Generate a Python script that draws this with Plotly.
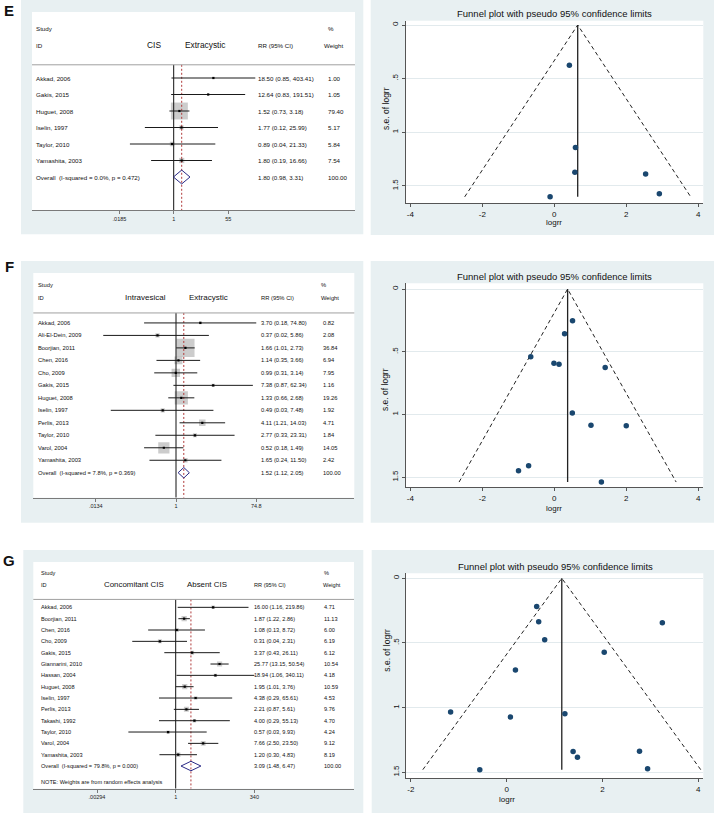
import numpy as np
import plotly.graph_objects as go

W, H = 714, 813
FONT = "Liberation Sans, Arial, sans-serif"
BG = "#E8F0F2"
NAVY = "#1A476F"

# ---------------- panel E : CIS vs extracystic ----------------
e_study = ["Akkad, 2006", "Gakis, 2015", "Huguet, 2008", "Iselin, 1997",
           "Taylor, 2010", "Yamashita, 2003"]
e_rr = [18.50, 12.64, 1.52, 1.77, 0.89, 1.80]
e_lo = [0.85, 0.83, 0.73, 0.12, 0.04, 0.19]
e_hi = [403.41, 191.51, 3.18, 25.99, 21.33, 16.66]
e_wt = [1.00, 1.05, 79.40, 5.17, 5.84, 7.54]
e_overall = [1.80, 0.98, 3.31]
e_het = "Overall\u00a0 (I-squared = 0.0%, p = 0.472)"
e_groups = ["CIS", "Extracystic"]
e_ticks = [0.0185, 1, 55]
e_ticktext = [".0185", "1", "55"]
e_center = 0.65

# ---------------- panel F : intravesical vs extracystic ----------------
f_study = ["Akkad, 2006", "Ali-El-Dein, 2009", "Boorjian, 2011", "Chen, 2016",
           "Cho, 2009", "Gakis, 2015", "Huguet, 2008", "Iselin, 1997",
           "Perlis, 2013", "Taylor, 2010", "Varol, 2004", "Yamashita, 2003"]
f_rr = [3.70, 0.37, 1.66, 1.14, 0.99, 7.38, 1.33, 0.49, 4.11, 2.77, 0.52, 1.65]
f_lo = [0.18, 0.02, 1.01, 0.35, 0.31, 0.87, 0.66, 0.03, 1.21, 0.33, 0.18, 0.24]
f_hi = [74.80, 5.86, 2.73, 3.66, 3.14, 62.34, 2.68, 7.48, 14.03, 23.31, 1.49, 11.50]
f_wt = [0.82, 2.08, 36.84, 6.94, 7.95, 1.16, 19.26, 1.92, 4.71, 1.84, 14.05, 2.42]
f_overall = [1.52, 1.12, 2.05]
f_het = "Overall\u00a0 (I-squared = 7.8%, p = 0.369)"
f_groups = ["Intravesical", "Extracystic"]
f_ticks = [0.0134, 1, 74.8]
f_ticktext = [".0134", "1", "74.8"]
f_center = 0.37

# ---------------- panel G : concomitant CIS vs absent CIS ----------------
g_study = ["Akkad, 2006", "Boorjian, 2011", "Chen, 2016", "Cho, 2009",
           "Gakis, 2015", "Giannarini, 2010", "Hassan, 2004", "Huguet, 2008",
           "Iselin, 1997", "Perlis, 2013", "Takashi, 1992", "Taylor, 2010",
           "Varol, 2004", "Yamashita, 2003"]
g_rr = [16.00, 1.87, 1.08, 0.31, 3.37, 25.77, 18.94, 1.95, 4.38, 2.21, 4.00, 0.57, 7.66, 1.20]
g_lo = [1.16, 1.22, 0.13, 0.04, 0.43, 13.15, 1.06, 1.01, 0.29, 0.87, 0.29, 0.03, 2.50, 0.30]
g_hi = [219.86, 2.86, 8.72, 2.31, 26.11, 50.54, 340.11, 3.76, 65.61, 5.61, 55.13, 9.93, 23.50, 4.83]
g_wt = [4.71, 11.13, 6.00, 6.19, 6.12, 10.54, 4.18, 10.59, 4.53, 9.76, 4.70, 4.24, 9.12, 8.19]
g_overall = [3.09, 1.48, 6.47]
g_het = "Overall\u00a0 (I-squared = 79.8%, p = 0.000)"
g_groups = ["Concomitant CIS", "Absent CIS"]
g_ticks = [0.00294, 1, 340]
g_ticktext = [".00294", "1", "340"]
g_center = 1.15
g_note = "NOTE: Weights are from random effects analysis"

funnel_yticks = [0, 0.5, 1, 1.5]
funnel_yticktext = ["0", ".5", "1", "1.5"]


def xp(x):
    return x / W


def yp(y):
    return 1 - y / H


fig = go.Figure()
shapes = []
annos = []
axes = {}


def rect(l, t, r, b, color):
    shapes.append(dict(type="rect", xref="paper", yref="paper", x0=xp(l), x1=xp(r),
                       y0=yp(b), y1=yp(t), fillcolor=color, line=dict(width=0),
                       layer="below"))


def txt(x, y, s, size, yref="paper", xanchor="left", **kw):
    annos.append(dict(x=xp(x), y=yp(y) if yref == "paper" else y, xref="paper",
                      yref=yref, text=s, showarrow=False, xanchor=xanchor,
                      yanchor="middle", borderpad=0,
                      font=dict(family=FONT, size=size, color="#111111"), **kw))


def forest(n, study, rr, lo, hi, wt, overall, het, groups, ticks, ticktext, g, note=None):
    xa = "x" if n == 1 else f"x{n}"
    ya = "y" if n == 1 else f"y{n}"
    k = len(study)
    rows = list(range(k))
    bottom = k + 2
    l, t, r, b = g["box"]
    rect(l, t, r, b, "white")

    xs, ys = [], []
    for i in rows:
        xs += [lo[i], hi[i], None]
        ys += [i, i, None]
    ov, ov_lo, ov_hi = overall
    line_top = g["hdr"]

    fig.add_trace(go.Scatter(x=rr, y=rows, mode="markers", xaxis=xa, yaxis=ya,
                             marker=dict(symbol="square", color="#B7B7B7",
                                         size=[g["k"] * np.sqrt(w) for w in wt],
                                         line=dict(width=0))))
    fig.add_trace(go.Scatter(x=[1, 1], y=[line_top, bottom], mode="lines", xaxis=xa, yaxis=ya,
                             line=dict(color="#111111", width=1)))
    fig.add_trace(go.Scatter(x=[ov, ov], y=[line_top, bottom], mode="lines", xaxis=xa, yaxis=ya,
                             line=dict(color="#B03A3A", width=1, dash="2px,2px")))
    fig.add_trace(go.Scatter(x=xs, y=ys, mode="lines", xaxis=xa, yaxis=ya,
                             line=dict(color="#1A1A1A", width=1)))
    fig.add_trace(go.Scatter(x=rr, y=rows, mode="markers", xaxis=xa, yaxis=ya,
                             marker=dict(symbol="square", color="black", size=2.2)))
    dh = 0.42
    fig.add_trace(go.Scatter(x=[ov_lo, ov, ov_hi, ov, ov_lo], y=[k, k - dh, k, k + dh, k],
                             mode="lines", xaxis=xa, yaxis=ya,
                             line=dict(color="#2A2A86", width=1)))

    shapes.append(dict(type="line", xref="paper", yref=ya, x0=xp(l), x1=xp(r),
                       y0=g["hdr"], y1=g["hdr"], line=dict(color="#A0A0A0", width=1)))

    fs, lfs = g["fs"], g["lfs"]
    txt(g["name_x"], -3, "Study", fs, ya)
    txt(g["name_x"], -2, "ID", fs, ya)
    txt(g["lab1_x"], -2, groups[0], lfs, ya, xanchor="center")
    txt(g["lab2_x"], -2, groups[1], lfs, ya, xanchor="center")
    txt(g["rr_x"], -2, "RR (95% CI)", fs, ya)
    txt(g["pct_x"], -3, "%", fs, ya)
    txt(g["wh_x"], -2, "Weight", fs, ya)
    for i in rows:
        txt(g["name_x"], i, study[i], fs, ya)
        txt(g["rr_x"], i, f"{rr[i]:.2f} ({lo[i]:.2f}, {hi[i]:.2f})", fs, ya)
        txt(g["wt_x"], i, f"{wt[i]:.2f}", fs, ya)
    txt(g["name_x"], k, het, fs, ya)
    txt(g["rr_x"], k, f"{ov:.2f} ({ov_lo:.2f}, {ov_hi:.2f})", fs, ya)
    txt(g["wt_x"], k, "100.00", fs, ya)
    if note:
        txt(g["name_x"], g["note_row"], note, fs, ya)

    null, ppl = g["null"], g["ppl"]
    ln10 = np.log(10)
    axes["xaxis" if n == 1 else f"xaxis{n}"] = dict(
        domain=[xp(l), xp(r)], type="log", anchor=ya,
        range=[(l - null) / ppl / ln10, (r - null) / ppl / ln10],
        showline=True, linecolor="#7A7A7A", linewidth=1, ticks="outside", ticklen=3,
        tickcolor="#7A7A7A", tickmode="array", tickvals=ticks, ticktext=ticktext,
        tickfont=dict(family=FONT, size=5.5, color="#222222"),
        showgrid=False, zeroline=False, fixedrange=True, automargin=False)
    axes["yaxis" if n == 1 else f"yaxis{n}"] = dict(
        domain=[yp(b), yp(t)], range=[bottom, -4], visible=False, anchor=xa,
        fixedrange=True)


def funnel(n, rr, lo, hi, center, xticks, g):
    xa, ya = f"x{n}", f"y{n}"
    l, t, r, b = g["box"]
    rect(l, t, r, b, "white")
    logrr = np.log(rr)
    se = (np.log(hi) - np.log(lo)) / (2 * 1.96)
    m = se.max()
    fig.add_trace(go.Scatter(x=[center - 1.96 * m, center, center + 1.96 * m], y=[m, 0, m],
                             mode="lines", xaxis=xa, yaxis=ya,
                             line=dict(color="#222222", width=1, dash="4px,3px")))
    fig.add_trace(go.Scatter(x=[center, center], y=[0, m], mode="lines", xaxis=xa, yaxis=ya,
                             line=dict(color="#222222", width=1.3)))
    fig.add_trace(go.Scatter(x=logrr, y=se, mode="markers", xaxis=xa, yaxis=ya,
                             marker=dict(color=NAVY, size=5.5)))

    x0, ppx, y0, ppy = g["x0"], g["ppx"], g["y0"], g["ppy"]
    axes[f"xaxis{n}"] = dict(
        domain=[xp(l), xp(r)], anchor=ya, range=[(l - x0) / ppx, (r - x0) / ppx],
        showline=True, linecolor="#555555", linewidth=1, ticks="outside", ticklen=3,
        tickcolor="#555555", tickmode="array", tickvals=xticks,
        ticktext=[str(v) for v in xticks],
        tickfont=dict(family=FONT, size=8, color="#111111"),
        showgrid=False, zeroline=False, fixedrange=True, automargin=False)
    axes[f"yaxis{n}"] = dict(
        domain=[yp(b), yp(t)], anchor=xa, range=[(b - y0) / ppy, (t - y0) / ppy],
        showline=True, linecolor="#555555", linewidth=1, ticks="outside", ticklen=3,
        tickcolor="#555555", tickmode="array", tickvals=funnel_yticks,
        ticktext=funnel_yticktext, tickangle=-90,
        tickfont=dict(family=FONT, size=8, color="#111111"),
        showgrid=True, gridcolor="#E2EAED", gridwidth=1, zeroline=False, fixedrange=True,
        automargin=False)

    txt((l + r) / 2 + 0.5, g["title_y"], "Funnel plot with pseudo 95% confidence limits", 9.5,
        xanchor="center")
    txt(x0, g["xt_y"], "logrr", 8, xanchor="center")
    txt(g["yt"][0], g["yt"][1], "s.e. of logrr", 8.5, xanchor="center", textangle=-90)


# grey panel backgrounds
rect(21, 0, 363.3, 234.3, BG)
rect(370.7, 0, 714, 235, BG)
rect(21, 261, 363.3, 522.7, BG)
rect(370.7, 261, 714, 522.7, BG)
rect(23.3, 550, 363.3, 813, BG)
rect(371.7, 550, 714, 813, BG)

forest(1, e_study, e_rr, e_lo, e_hi, e_wt, e_overall, e_het, e_groups, e_ticks, e_ticktext,
       dict(box=(32, 12, 355, 210), null=173.7, ppl=13.6, hdr=-0.8, k=1.9, name_x=35,
            lab1_x=154, lab2_x=206, rr_x=256.7, pct_x=326.7, wh_x=323.3, wt_x=326.7,
            fs=6.2, lfs=8.4))
funnel(2, e_rr, e_lo, e_hi, e_center, [-4, -2, 0, 2, 4],
       dict(box=(405.5, 20.7, 703.3, 203), x0=554.3, ppx=36, y0=25, ppy=107.3,
            title_y=14, xt_y=222, yt=(386.7, 108.3)))

forest(3, f_study, f_rr, f_lo, f_hi, f_wt, f_overall, f_het, f_groups, f_ticks, f_ticktext,
       dict(box=(33.3, 273, 354.3, 497.7), null=176, ppl=18.6, hdr=-0.8, k=3.0, name_x=36.7,
            lab1_x=145, lab2_x=208, rr_x=260, pct_x=320, wh_x=320, wt_x=321.7,
            fs=5.8, lfs=8))
funnel(4, f_rr, f_lo, f_hi, f_center, [-4, -2, 0, 2, 4],
       dict(box=(405.5, 283.3, 703.3, 487.3), x0=554.3, ppx=36, y0=289, ppy=125.5,
            title_y=276, xt_y=508.5, yt=(385, 390)))

forest(5, g_study, g_rr, g_lo, g_hi, g_wt, g_overall, g_het, g_groups, g_ticks, g_ticktext,
       dict(box=(33.3, 562, 354, 788.7), null=175.7, ppl=13.5, hdr=-0.7, k=1.6, name_x=40,
            lab1_x=134.3, lab2_x=207.3, rr_x=253.3, pct_x=322.7, wh_x=321.7, wt_x=322.7,
            fs=5.6, lfs=7.9, note_row=15.45), note=g_note)
funnel(6, g_rr, g_lo, g_hi, g_center, [-2, 0, 2, 4],
       dict(box=(406, 573.3, 703.3, 778.3), x0=506.7, ppx=47.9, y0=578.3, ppy=129.3,
            title_y=566.7, xt_y=799.5, yt=(386.7, 650)))

# panel letters
for letter, y in [("E", 10), ("F", 266.7), ("G", 560)]:
    txt(9, y, f"<b>{letter}</b>", 15, xanchor="center")

fig.update_layout(
    width=W, height=H, margin=dict(l=0, r=0, t=0, b=0, autoexpand=False),
    paper_bgcolor="white", plot_bgcolor="rgba(0,0,0,0)",
    showlegend=False, shapes=shapes, annotations=annos,
    font=dict(family=FONT, color="#111111"),
    **axes,
)

# the page body has a default 8px margin; drop it so the figure fills the window
fig.write_html("out.html", config={"displayModeBar": False},
               post_script="document.body.style.margin='0px';")
